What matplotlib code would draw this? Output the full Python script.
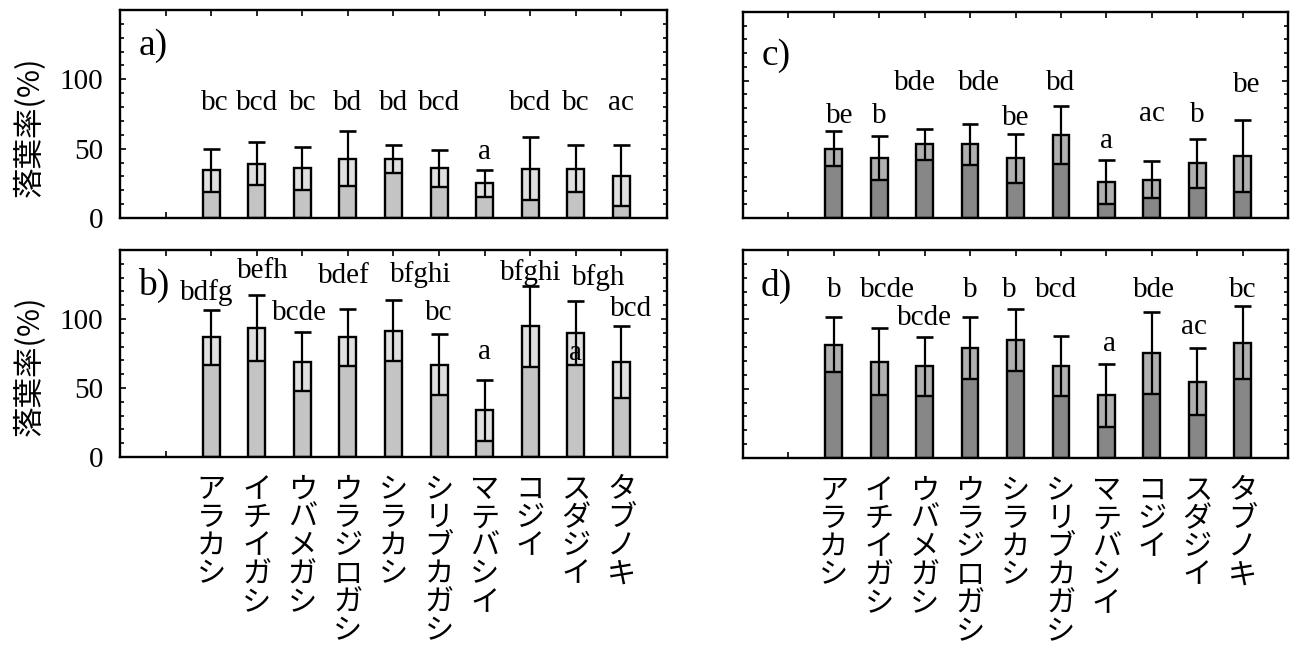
import matplotlib
matplotlib.use("Agg")
import matplotlib.pyplot as plt
from matplotlib.ticker import MultipleLocator, FixedLocator
import numpy as np

# ---- data ----
categories = ["アラカシ", "イチイガシ", "ウバメガシ", "ウラジロガシ", "シラカシ",
              "シリブカガシ", "マテバシイ", "コジイ", "スダジイ", "タブノキ"]

a_mean = [34.5, 39.3, 35.7, 42.6, 42.4, 35.7, 25.0, 35.5, 35.5, 30.5]
a_sd   = [15.5, 15.5, 15.5, 19.8, 10.0, 13.1,  9.5, 22.8, 16.9, 21.9]
a_lab  = ["bc", "bcd", "bc", "bd", "bd", "bcd", "a", "bcd", "bc", "ac"]
a_lab_y = [83, 83, 83, 83, 83, 83, 47.6, 83, 83, 83]
a_lab_dx = [0.07, 0, 0, 0, 0, 0, 0, 0, 0, 0]

b_mean = [86.6, 93.4, 69.0, 86.6, 91.5, 67.0, 33.7, 94.6, 89.8, 68.5]
b_sd   = [19.7, 23.9, 21.5, 21.0, 22.2, 22.0, 21.9, 29.3, 23.1, 26.1]
b_lab  = ["bdfg", "befh", "bcde", "bdef", "bfghi", "bc", "a", "bfghi", "bfgh", "bcd"]
b_lab_y = [119, 135, 104, 131, 132, 104, 76, 134, 130, 107]
b_lab_dx = [-0.1, 0.14, -0.06, -0.08, 0.6, 0, 0, 0, 0.5, 0.22]

c_mean = [50.5, 43.6, 53.6, 53.6, 43.4, 60.3, 26.2, 27.9, 39.8, 45.1]
c_sd   = [12.7, 16.0, 11.5, 15.1, 18.1, 21.0, 16.0, 13.3, 17.6, 25.9]
c_lab  = ["be", "b", "bde", "bde", "be", "bd", "a", "ac", "b", "be"]
c_lab_y = [74, 74, 98, 98, 73, 98, 56, 76, 75, 96.5]
c_lab_dx = [0.12, 0, -0.21, 0.2, 0, 0, 0, 0, 0, 0.08]

d_mean = [81.7, 69.5, 66.1, 79.5, 84.9, 66.1, 45.1, 75.9, 55.1, 83.2]
d_sd   = [19.8, 24.4, 21.2, 22.5, 22.2, 21.7, 22.7, 29.7, 24.4, 26.1]
d_lab  = ["b", "bcde", "bcde", "b", "b", "bcd", "a", "bde", "ac", "bc"]
d_lab_y = [121.5, 121.5, 100.7, 121.5, 121.5, 121.5, 82.4, 121.5, 94.6, 121.5]
d_lab_dx = [0, 0.17, 0, 0, -0.13, -0.1, 0.06, 0.04, -0.08, 0]

panel_tags = ["a)", "b)", "c)", "d)"]
ylabel = "落葉率(%)"
yticks = [0, 50, 100]

# ---- style ----
SERIF = ["Liberation Serif", "DejaVu Serif"]
CJK = ["Noto Sans CJK JP", "DejaVu Sans"]
LFS = 21

fig = plt.figure(figsize=(12.92, 6.57), dpi=100)
W, H = 1292, 657

def axes_px(l, t, r, b):
    return fig.add_axes([l / W, 1 - b / H, (r - l) / W, (b - t) / H])

ax_a = axes_px(120, 10, 667, 218)
ax_b = axes_px(120, 250, 667, 457)
ax_c = axes_px(743, 12, 1288, 218)
ax_d = axes_px(743, 250, 1288, 458)

panels = [
    (ax_a, a_mean, a_sd, a_lab, a_lab_y, a_lab_dx, "#c4c4c4", "#e0e0e0", False, True),
    (ax_b, b_mean, b_sd, b_lab, b_lab_y, b_lab_dx, "#c4c4c4", "#e0e0e0", True, True),
    (ax_c, c_mean, c_sd, c_lab, c_lab_y, c_lab_dx, "#878787", "#b0b0b0", False, False),
    (ax_d, d_mean, d_sd, d_lab, d_lab_y, d_lab_dx, "#878787", "#b0b0b0", True, False),
]

x = np.arange(1, len(categories) + 1)
bw = 0.37

for i, (ax, mean, sd, lab, lab_y, lab_dx, c_low, c_up, show_x, show_y) in enumerate(panels):
    mean = np.asarray(mean)
    sd = np.asarray(sd)
    low = mean - sd
    up = mean + sd
    ax.bar(x, mean, width=bw, color=c_up, edgecolor="none", zorder=2)
    ax.bar(x, low, width=bw, color=c_low, edgecolor="none", zorder=2)
    ax.bar(x, mean, width=bw, fill=False, edgecolor="black", linewidth=1.7, zorder=3)
    ax.hlines(low, x - bw / 2, x + bw / 2, color="black", linewidth=1.7, zorder=4)
    ax.vlines(x, low, up, color="black", linewidth=1.6, zorder=4)
    ax.hlines(up, x - bw / 2, x + bw / 2, color="black", linewidth=1.9, zorder=4)

    for xi, t, yy, dx in zip(x, lab, lab_y, lab_dx):
        ax.text(xi + dx, yy, t, ha="center", va="center", fontsize=LFS,
                family=SERIF, zorder=5)
    if i == 1:
        # stray letter printed over the スダジイ bar
        ax.text(9, 75, "a", ha="center", va="center", fontsize=LFS,
                family=SERIF, zorder=5)

    ax.text(-0.27, 124 if i != 2 else 118, panel_tags[i], ha="center", va="center",
            fontsize=27, family=SERIF)

    ax.set_xlim(-1, 11)
    ax.set_ylim(0, 150)
    ax.xaxis.set_major_locator(FixedLocator(np.arange(0, 11)))
    ax.yaxis.set_major_locator(FixedLocator(yticks))
    ax.yaxis.set_minor_locator(MultipleLocator(10))
    ax.tick_params(axis="both", which="both", direction="in", top=True,
                   right=True, width=1.2)
    ax.tick_params(axis="both", which="major", length=4)
    ax.tick_params(axis="y", which="minor", length=3)
    for s in ax.spines.values():
        s.set_linewidth(1.7)

    if show_y:
        ax.set_yticklabels([str(v) for v in yticks], fontsize=LFS, family=SERIF)
        ax.tick_params(axis="y", which="major", pad=12)
        ax.set_ylabel(ylabel, fontsize=22, family=CJK)
        ax.yaxis.set_label_coords(-0.135, 0.44)
    else:
        ax.set_yticklabels([])

    if show_x:
        ax.set_xticklabels([""] + ["\n".join(c) for c in categories],
                           fontsize=21, family=CJK, va="top",
                           linespacing=0.92)
        ax.tick_params(axis="x", which="major", pad=13)
    else:
        ax.set_xticklabels([])

fig.savefig("out.png", dpi=100)
